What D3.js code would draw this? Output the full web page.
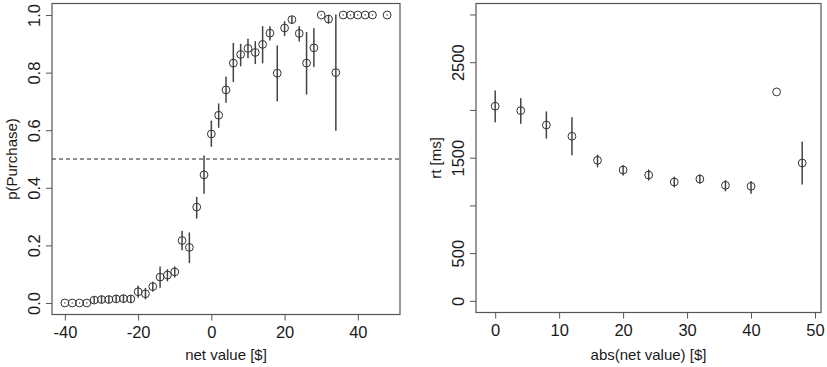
<!DOCTYPE html>
<html>
<head>
<meta charset="utf-8">
<script src="https://cdn.jsdelivr.net/npm/d3@7"></script>
<style>
  body { margin: 0; background: #fff; }
  text { font-family: "Liberation Sans", Arial, Helvetica, sans-serif; fill: #1a1a1a; }
</style>
</head>
<body>
<svg id="chart" width="827" height="367"></svg>
<script>
// Left panel: p(Purchase) by net value
const netValue = [-40, -38, -36, -34, -32, -30, -28, -26, -24, -22, -20, -18, -16, -14, -12, -10, -8, -6, -4, -2,
  0, 2, 4, 6, 8, 10, 12, 14, 16, 18, 20, 22, 24, 26, 28, 30, 32, 34, 36, 38, 40, 42, 44, 48];
const pPurchase = [0, 0, 0, 0, 0.010, 0.012, 0.012, 0.014, 0.015, 0.014, 0.039, 0.032, 0.057, 0.090, 0.097, 0.108, 0.217, 0.193, 0.333, 0.445,
  0.587, 0.652, 0.740, 0.833, 0.863, 0.884, 0.870, 0.898, 0.937, 0.798, 0.955, 0.984, 0.936, 0.833, 0.886, 1, 0.986, 0.800, 1, 1, 1, 1, 1, 1];
const pLow = [0, 0, 0, 0, 0.001, 0.002, 0.002, 0.003, 0.003, 0.003, 0.020, 0.015, 0.042, 0.055, 0.077, 0.090, 0.185, 0.141, 0.295, 0.381,
  0.544, 0.610, 0.697, 0.769, 0.824, 0.852, 0.832, 0.834, 0.913, 0.702, 0.929, 0.972, 0.910, 0.726, 0.821, 1, 0.972, 0.600, 1, 1, 1, 1, 1, 1];
const pHigh = [0, 0, 0, 0, 0.020, 0.023, 0.023, 0.026, 0.027, 0.026, 0.058, 0.050, 0.072, 0.125, 0.115, 0.125, 0.248, 0.243, 0.366, 0.510,
  0.631, 0.691, 0.784, 0.901, 0.898, 0.916, 0.907, 0.959, 0.959, 0.892, 0.977, 0.994, 0.959, 0.939, 0.952, 1, 0.998, 1.000, 1, 1, 1, 1, 1, 1];
const leftXTicks = [-40, -20, 0, 20, 40];
const leftYTicks = [0, 0.2, 0.4, 0.6, 0.8, 1.0];

// Right panel: rt by abs(net value); the 44 point has no error bar
const absValue = [0, 4, 8, 12, 16, 20, 24, 28, 32, 36, 40, 44, 48];
const rtMean = [2039, 1993, 1842, 1724, 1472, 1371, 1318, 1245, 1276, 1210, 1200, 2189, 1444];
const rtLow = [1877, 1860, 1706, 1531, 1405, 1318, 1266, 1196, 1231, 1153, 1126, null, 1224];
const rtHigh = [2199, 2118, 1979, 1919, 1525, 1416, 1371, 1294, 1318, 1258, 1248, null, 1661];
const rightXTicks = [0, 10, 20, 30, 40, 50];
const rightYTicks = [0, 500, 1000, 1500, 2000, 2500, 3000];
const rightYLabels = ["0", "500", "", "1500", "", "2500", ""];

const svg = d3.select("#chart");
const ink = "#333";

function panel(opt) {
  const x = d3.scaleLinear().domain(opt.xDomain).range([opt.left, opt.right]);
  const y = d3.scaleLinear().domain(opt.yDomain).range([opt.bottom, opt.top]);
  const g = svg.append("g");

  // x axis
  const xAxis = g.append("g")
    .attr("transform", `translate(0, ${opt.bottom})`)
    .call(d3.axisBottom(x).tickValues(opt.xTicks).tickSize(6).tickPadding(6).tickFormat(d3.format("d")));
  xAxis.select(".domain").remove();
  xAxis.selectAll("line").attr("stroke", "#555");
  xAxis.selectAll("text").style("font-size", "16.5px").attr("fill", "#1a1a1a")
    .text((d) => String(d).replace("\u2212", "-"));

  // y axis, labels rotated like R's default
  const yAxis = g.append("g")
    .attr("transform", `translate(${opt.left}, 0)`)
    .call(d3.axisLeft(y).tickValues(opt.yTicks).tickSize(6).tickFormat((d, i) => opt.yLabels[i]));
  yAxis.select(".domain").remove();
  yAxis.selectAll("line").attr("stroke", "#555");
  yAxis.selectAll("text")
    .attr("x", null).attr("dy", null)
    .attr("text-anchor", "middle")
    .attr("transform", `translate(-12, 0) rotate(-90)`)
    .style("font-size", "16.5px").attr("fill", "#1a1a1a");

  // box
  g.append("rect")
    .attr("x", opt.left).attr("y", opt.top)
    .attr("width", opt.right - opt.left).attr("height", opt.bottom - opt.top)
    .attr("fill", "none").attr("stroke", "#555").attr("stroke-width", 1.2);

  // axis titles
  g.append("text")
    .attr("x", (opt.left + opt.right) / 2).attr("y", 360)
    .attr("text-anchor", "middle").style("font-size", "15px")
    .text(opt.xTitle);
  g.append("text")
    .attr("transform", `translate(${opt.left - 35}, ${(opt.top + opt.bottom) / 2}) rotate(-90)`)
    .attr("text-anchor", "middle").style("font-size", "15px")
    .text(opt.yTitle);

  if (opt.refLine !== undefined) {
    g.append("line")
      .attr("x1", opt.left).attr("x2", opt.right)
      .attr("y1", y(opt.refLine)).attr("y2", y(opt.refLine))
      .attr("stroke", "#222").attr("stroke-dasharray", "4,3");
  }

  // error bars (skip points without one)
  const idx = opt.xs.map((d, i) => i).filter((i) => opt.lo[i] != null);
  g.selectAll(".err").data(idx).enter().append("line")
    .attr("class", "err")
    .attr("x1", (i) => x(opt.xs[i])).attr("x2", (i) => x(opt.xs[i]))
    .attr("y1", (i) => y(opt.lo[i])).attr("y2", (i) => y(opt.hi[i]))
    .attr("stroke", "#444").attr("stroke-width", 1.5).attr("stroke-linecap", "round");

  // points
  g.selectAll(".pt").data(opt.xs).enter().append("circle")
    .attr("class", "pt")
    .attr("cx", (d) => x(d)).attr("cy", (d, i) => y(opt.ys[i]))
    .attr("r", 3.9)
    .attr("fill", "none").attr("stroke", ink).attr("stroke-width", 1);
}

panel({
  left: 52, right: 400, top: 3.5, bottom: 314.5,
  xDomain: [-43.52, 51.52], yDomain: [-0.04, 1.04],
  xTicks: leftXTicks, yTicks: leftYTicks,
  yLabels: leftYTicks.map((d) => d.toFixed(1)),
  xs: netValue, ys: pPurchase, lo: pLow, hi: pHigh,
  xTitle: "net value [$]", yTitle: "p(Purchase)",
  refLine: 0.5
});

panel({
  left: 476, right: 821, top: 3.5, bottom: 312.5,
  xDomain: [-3, 50.94], yDomain: [-122, 3115],
  xTicks: rightXTicks, yTicks: rightYTicks,
  yLabels: rightYLabels,
  xs: absValue, ys: rtMean, lo: rtLow, hi: rtHigh,
  xTitle: "abs(net value) [$]", yTitle: "rt [ms]"
});
</script>
</body>
</html>
